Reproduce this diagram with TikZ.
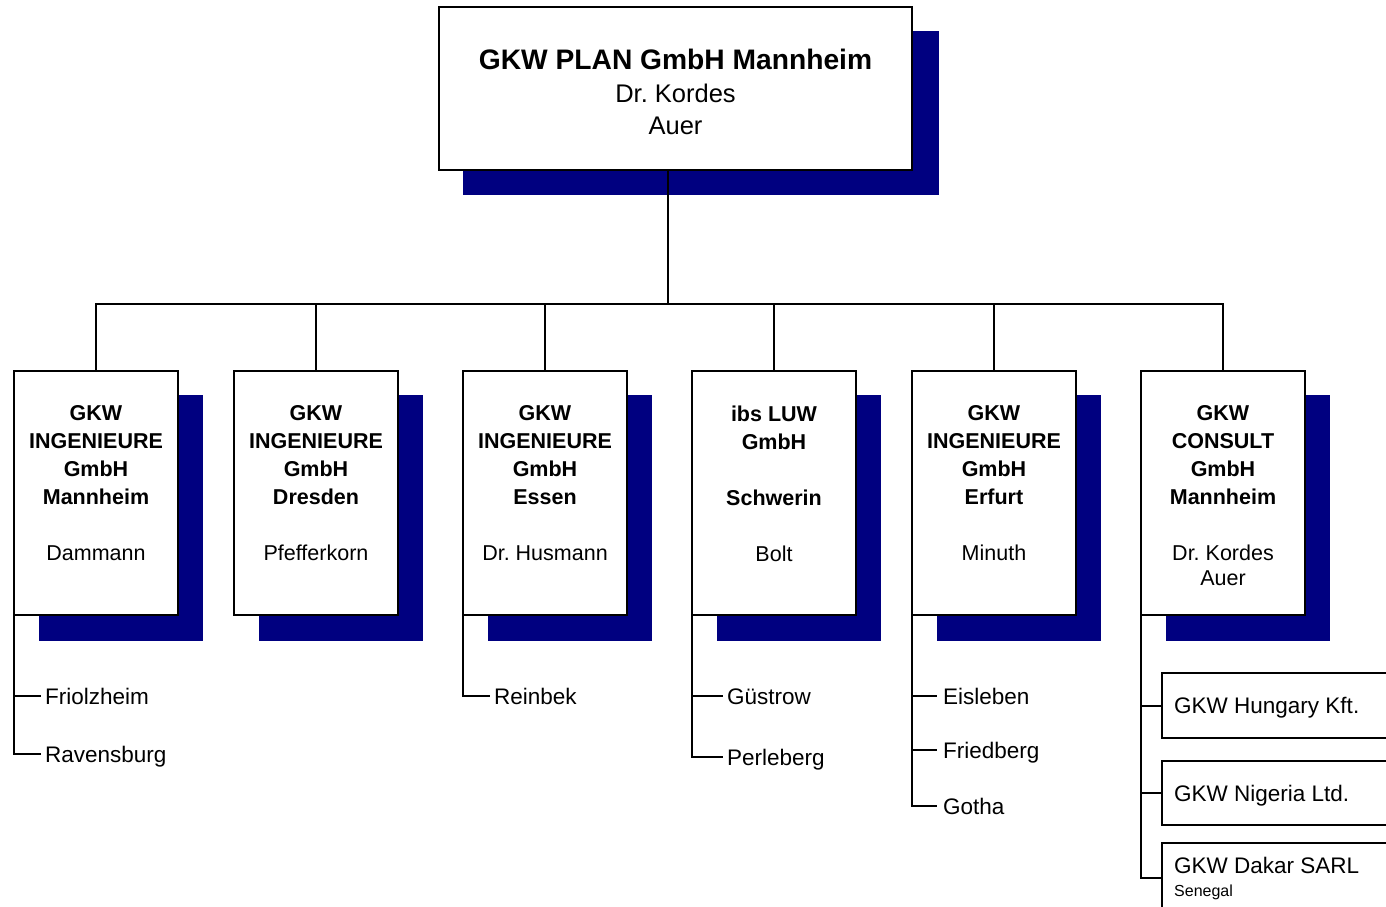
\documentclass[tikz,border=0pt]{standalone}
\usepackage{fontspec}
\setmainfont{Liberation Sans}
\frenchspacing
\definecolor{navyshadow}{HTML}{000080}
\tikzset{
  box/.style={draw=black, line width=2pt, fill=white, inner sep=0pt, outer sep=0pt, anchor=north west},
  shade/.style={fill=navyshadow},
  conn/.style={line width=2pt, line cap=rect},
  ctext/.style={anchor=north, align=center, inner sep=0pt, font=\fontsize{21.5}{28}\selectfont},
  leaf/.style={anchor=west, inner xsep=5pt, inner ysep=0pt, text height=16pt, text depth=0pt, font=\fontsize{22.5}{27}\selectfont},
  subtext/.style={anchor=base west, inner sep=0pt, font=\fontsize{22.5}{27}\selectfont},
}
\begin{document}
\begin{tikzpicture}[x=1pt, y=-1pt]
\useasboundingbox (0,0) rectangle (1386,906);
\clip (0,0) rectangle (1386,906);
\fill[white] (0,0) rectangle (1386,906);

% top box
\node[box, minimum width=473pt, minimum height=163pt] (topshape) at (439,7) {};
\fill[shade] ([shift={(24,25)}]topshape.south west) rectangle ([shift={(27,24)}]topshape.north east);
\node[box, minimum width=473pt, minimum height=163pt] (top) at (439,7) {};
\node[anchor=north, align=center, inner sep=0pt, font=\fontsize{25.5}{32.5}\selectfont] (toptext) at (675.5,49)
  {{\fontsize{28.2}{32.5}\selectfont\bfseries GKW PLAN GmbH Mannheim}\\Dr. Kordes\\Auer};

% child boxes
\foreach \n/\x in {b1/14, b2/234, b3/463, b4/692, b5/912, b6/1141}{
  \fill[shade] (\x+25,395) rectangle (\x+189,641);
  \node[box, minimum width=164pt, minimum height=244pt] (\n) at (\x,371) {};
}

\node[ctext] (t1) at (b1.north |- 0,405.5) {\textbf{GKW}\\\textbf{INGENIEURE}\\\textbf{GmbH}\\\textbf{Mannheim}\\[28pt]Dammann};
\node[ctext] (t2) at (b2.north |- 0,405.5) {\textbf{GKW}\\\textbf{INGENIEURE}\\\textbf{GmbH}\\\textbf{Dresden}\\[28pt]Pfefferkorn};
\node[ctext] (t3) at (b3.north |- 0,405.5) {\textbf{GKW}\\\textbf{INGENIEURE}\\\textbf{GmbH}\\\textbf{Essen}\\[28pt]Dr. Husmann};
\node[ctext] (t4) at (b4.north |- 0,405.5) {\textbf{ibs LUW}\\\textbf{GmbH}\\[28pt]\textbf{Schwerin}\\[28pt]Bolt};
\node[ctext] (t5) at (b5.north |- 0,405.5) {\textbf{GKW}\\\textbf{INGENIEURE}\\\textbf{GmbH}\\\textbf{Erfurt}\\[28pt]Minuth};
\node[ctext] (t6) at (b6.north |- 0,405.5) {\textbf{GKW}\\\textbf{CONSULT}\\\textbf{GmbH}\\\textbf{Mannheim}\\[28pt]Dr. Kordes\\[-3pt]Auer};

% tree connectors
\coordinate (trunk) at (668,304);
\draw[conn] (trunk |- top.south) -- (trunk);
\draw[conn] (b1.north) |- (b6.north |- trunk) -- (b6.north);
\foreach \n in {b2,b3,b4,b5}{
  \draw[conn] (\n.north) -- (\n.north |- trunk);
}

% leaves
\node[leaf] (f11) at (40,696) {Friolzheim};
\node[leaf] (f12) at (40,754) {Ravensburg};
\node[leaf] (f31) at (489,696) {Reinbek};
\node[leaf] (f41) at (722,696) {Güstrow};
\node[leaf] (f42) at (722,757) {Perleberg};
\node[leaf, inner xsep=7pt] (f51) at (936,696) {Eisleben};
\node[leaf, inner xsep=7pt] (f52) at (936,750) {Friedberg};
\node[leaf, inner xsep=7pt] (f53) at (936,806) {Gotha};

\draw[conn] (b1.south west) |- (f12.west);
\draw[conn] (f11.west) -- (b1.south west |- f11.west);
\draw[conn] (b3.south west) |- (f31.west);
\draw[conn] (b4.south west) |- (f42.west);
\draw[conn] (f41.west) -- (b4.south west |- f41.west);
\draw[conn] (b5.south west) |- (f53.west);
\draw[conn] (f51.west) -- (b5.south west |- f51.west);
\draw[conn] (f52.west) -- (b5.south west |- f52.west);

% foreign subsidiaries
\node[box, minimum width=240pt, minimum height=65pt] (s1) at (1162,673) {};
\node[box, minimum width=240pt, minimum height=64pt] (s2) at (1162,761) {};
\node[box, minimum width=240pt, minimum height=70pt] (s3) at (1162,843) {};
\node[subtext] (s1t) at (1174,713) {GKW Hungary Kft.};
\node[subtext] (s2t) at (1174,801) {GKW Nigeria Ltd.};
\node[subtext] (s3t) at (1174,873) {GKW Dakar SARL};
\node[anchor=base west, inner sep=0pt, font=\fontsize{16}{18}\selectfont] (s3s) at (1174,896) {Senegal};

\draw[conn] (b6.south west) |- (s3.west);
\draw[conn] (s1.west) -- (b6.south west |- s1.west);
\draw[conn] (s2.west) -- (b6.south west |- s2.west);
\end{tikzpicture}
\end{document}
